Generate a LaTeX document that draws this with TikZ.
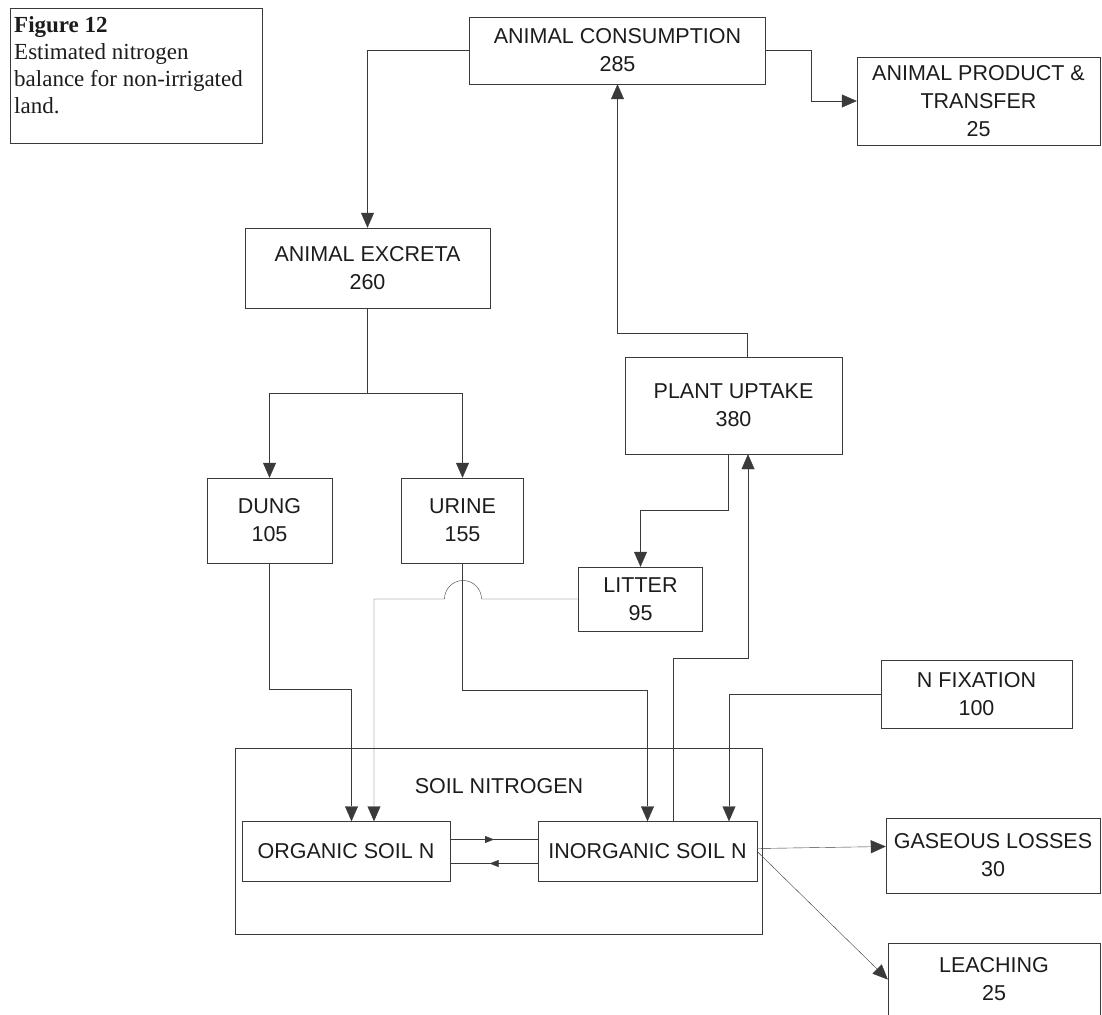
\documentclass[tikz,border=0pt]{standalone}
\usepackage{fontspec}
\setmainfont{Liberation Sans}
\newfontfamily\capfont{Liberation Serif}
\usetikzlibrary{arrows.meta,calc,decorations.markings}
\definecolor{ink}{HTML}{1C1C1C}
\definecolor{wire}{HTML}{3A3A3A}
\tikzset{>={Triangle[length=15pt,width=13pt]},line width=1.4pt,
  every node/.style={font=\fontsize{21.5}{28}\selectfont,text=ink},
  box/.style={draw=wire,rectangle,align=center,inner sep=0pt},
  flow/.style={->,draw=wire},
  link/.style={draw=wire},
  midtip/.style={decoration={markings,mark=at position #1 with {\arrow{Triangle[length=9pt,width=7pt]}}},postaction={decorate}}}
\begin{document}
\begin{tikzpicture}[x=1pt,y=-1pt]
\useasboundingbox(0,0)rectangle(1102,1014);
\node[box,minimum width=252pt,minimum height=135pt](capframe)at(136,75.5){};
\node[anchor=north west,align=left,inner sep=0pt,font=\capfont\fontsize{23}{27}\selectfont](captext)at(14,16){\textbf{Figure 12}\\Estimated nitrogen\\balance for non-irrigated\\land.};
\node[box,minimum width=296pt,minimum height=67pt](cons)at(617.5,50.5){ANIMAL CONSUMPTION\\285};
\node[box,minimum width=243pt,minimum height=88pt](prod)at(978.5,101){ANIMAL PRODUCT \&\\TRANSFER\\25};
\node[box,minimum width=245pt,minimum height=80pt](excr)at(367.5,268){ANIMAL EXCRETA\\260};
\node[box,minimum width=125pt,minimum height=85pt](dung)at(269.5,520.5){DUNG\\105};
\node[box,minimum width=122pt,minimum height=85pt](urine)at(462.5,520.5){URINE\\155};
\node[box,minimum width=217pt,minimum height=97pt](plant)at(733.5,405.5){PLANT UPTAKE\\380};
\node[box,minimum width=124pt,minimum height=64pt](litter)at(640.5,599){LITTER\\95};
\node[box,minimum width=191pt,minimum height=68pt](nfix)at(976.5,694.5){N FIXATION\\100};
\node[box,minimum width=527pt,minimum height=186pt](soil)at(498.5,841){};
\node(soiltitle)at(499,786){SOIL NITROGEN};
\node[box,minimum width=208pt,minimum height=60pt](org)at(346,851.5){ORGANIC SOIL N};
\node[box,minimum width=219pt,minimum height=60pt](inorg)at(647.5,851.5){INORGANIC SOIL N};
\node[box,minimum width=214pt,minimum height=75pt](gas)at(993,855.5){GASEOUS LOSSES\\30};
\node[box,minimum width=212pt,minimum height=73pt](leach)at(994,979.5){LEACHING\\25};
\draw[flow](cons.west)-|(excr.north);
\draw[flow](cons.east)--++(45,0)|-(prod.west);
\draw[link](excr.south)--++(0,85)coordinate(split);
\draw[flow](split)-|(dung.north);\draw[flow](split)-|(urine.north);
\draw[flow]([xshift=13.5pt]plant.north)--++(0,-24)-|(cons.south);
\draw[flow]([xshift=-5.5pt]plant.south)--++(0,56)-|(litter.north);
\draw[flow]([xshift=25.5pt]inorg.north)--++(0,-163)-|([xshift=14.5pt]plant.south);
\draw[flow](dung.south)--++(0,126)-|([xshift=5.5pt]org.north);
\draw[flow](urine.south)--++(0,127)-|(inorg.north);
\draw[flow](litter.west)--(481.5,599)arc[start angle=0,end angle=180,radius=18.5pt]-|([xshift=28pt]org.north);
\draw[flow](nfix.west)-|([xshift=81.5pt]inorg.north);
\draw[link,midtip=.5]([yshift=12pt]org.east)--([yshift=12pt]inorg.west);
\draw[link,midtip=.55]([yshift=-12pt]inorg.west)--([yshift=-12pt]org.east);
\draw[flow]([yshift=3pt]inorg.east)--([yshift=9pt]gas.west);
\draw[flow](inorg.east)--(leach.west);
\end{tikzpicture}
\end{document}
